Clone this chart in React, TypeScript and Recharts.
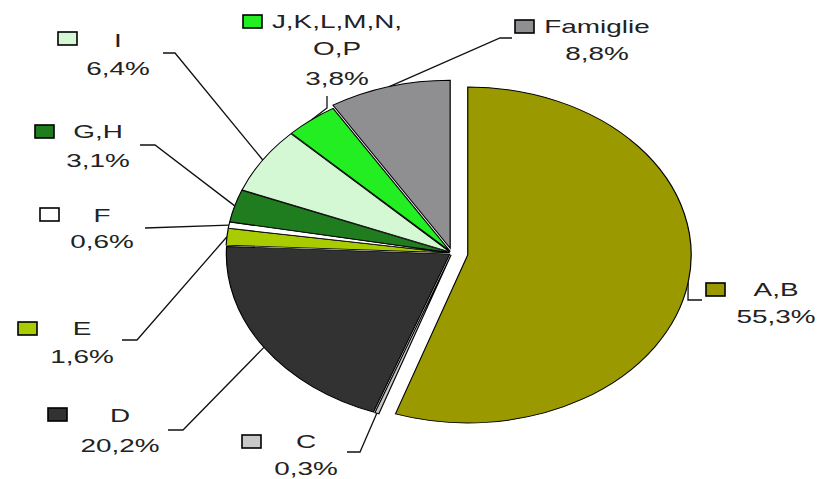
import { PieChart, Pie, Cell, Sector } from 'recharts';

const categories = ['A,B', 'C', 'D', 'E', 'F', 'G,H', 'I', 'J,K,L,M,N,\nO,P', 'Famiglie'];
const shares = [55.3, 0.3, 20.2, 1.6, 0.6, 3.1, 6.4, 3.8, 8.8];
const colors = ['#9a9900', '#c8c8c8', '#323232', '#a8cc00', '#ffffff', '#1f7d1f', '#d4f7d4', '#22ee22', '#8f8f92'];
// radial offset of each slice (px)
const explode = [12, 2, 2, 2, 2, 2, 2, 2, 5];

// label placement (text is annotation, not data)
const labelLayout = [
  { box: [706, 283], tx: 776, ys: [296, 323], elbow: [688, 300], end: [702, 300] },
  { box: [242, 435], tx: 306, ys: [448, 475], elbow: [360, 452], end: [347, 452] },
  { box: [48, 408], tx: 120, ys: [422, 452], elbow: [183, 430], end: [168, 430] },
  { box: [18, 322], tx: 82, ys: [335, 363], elbow: [137, 340], end: [122, 340] },
  { box: [40, 208], tx: 102, ys: [222, 248], elbow: null, end: [145, 228] },
  { box: [35, 125], tx: 98, ys: [138, 167], elbow: [155, 145], end: [140, 145] },
  { box: [58, 32], tx: 118, ys: [47, 75], elbow: [175, 53], end: [163, 53] },
  { box: [243, 15], tx: 337, ys: [28, 55, 85], elbow: [327, 108], end: [327, 96] },
  { box: [515, 20], tx: 597, ys: [33, 60], elbow: [500, 38], end: [512, 38] },
];

const X_STRETCH = 1.33;
const TEXT_STRETCH = 1.55;
const RADIAN = Math.PI / 180;

const pieData = categories.map((name, i) => ({ name, value: shares[i] }));

const fmtPct = (v: number) => v.toFixed(1).replace('.', ',') + '%';

const renderSlice = (props: any) => {
  const { cx, cy, midAngle } = props;
  const idx = categories.indexOf(props.name ?? props.payload?.name);
  const d = explode[idx] ?? 0;
  const dx = d * Math.cos(midAngle * RADIAN) * X_STRETCH;
  const dy = -d * Math.sin(midAngle * RADIAN);
  return (
    <g transform={`translate(${cx + dx} ${cy + dy}) scale(${X_STRETCH} 1) translate(${-cx} ${-cy})`}>
      <Sector {...props} stroke="#000" strokeWidth={0.9} />
    </g>
  );
};

const renderLabel = (props: any) => {
  const { cx, cy, midAngle, outerRadius, index } = props;
  const lay = labelLayout[index];
  const r = outerRadius + explode[index];
  const sx = cx + r * Math.cos(midAngle * RADIAN) * X_STRETCH;
  const sy = cy - r * Math.sin(midAngle * RADIAN);
  const pts = [[sx, sy], ...(lay.elbow ? [lay.elbow] : []), lay.end];
  const lines = [...categories[index].split('\n'), fmtPct(shares[index])];
  return (
    <g key={`lbl-${index}`}>
      <polyline points={pts.map((p) => p.join(',')).join(' ')} fill="none" stroke="#111" strokeWidth={1.3} />
      <rect x={lay.box[0]} y={lay.box[1]} width={19} height={13} fill={colors[index]} stroke="#000" strokeWidth={1.6} />
      {lines.map((t, i) => (
        <text
          key={i}
          transform={`translate(${lay.tx} ${lay.ys[i]}) scale(${TEXT_STRETCH} 1)`}
          textAnchor="middle"
          fontFamily="'Liberation Sans', Arial, sans-serif"
          fontSize={18}
          fill="#222"
        >
          {t}
        </text>
      ))}
    </g>
  );
};

export default function App() {
  return (
    <div style={{ position: 'absolute', left: 0, top: 0, width: 824, height: 479, background: '#fff' }}>
      <PieChart width={824} height={479} margin={{ top: 0, right: 0, bottom: 0, left: 0 }}>
        <Pie
          data={pieData}
          dataKey="value"
          nameKey="name"
          cx={452}
          cy={253}
          outerRadius={168}
          startAngle={90}
          endAngle={-270}
          isAnimationActive={false}
          label={renderLabel}
          labelLine={false}
          shape={renderSlice}
        >
          {pieData.map((entry, index) => (
            <Cell key={`cell-${index}`} fill={colors[index]} />
          ))}
        </Pie>
      </PieChart>
    </div>
  );
}
